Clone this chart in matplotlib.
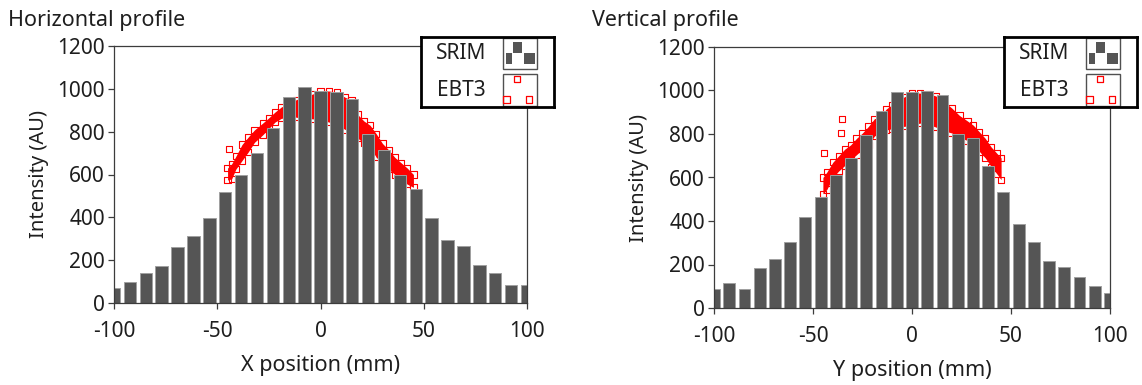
import numpy as np
import matplotlib
matplotlib.use("Agg")
import matplotlib.pyplot as plt
from matplotlib.patches import Rectangle

plt.rcParams["font.family"] = ["Noto Sans", "DejaVu Sans"]
plt.rcParams["axes.unicode_minus"] = False

# SRIM simulation, 27 bins across +-100 mm
bin_centres = np.linspace(-100, 100, 27)
srim_h = [70, 96, 140, 172, 260, 312, 399, 519, 600, 702, 817, 963, 1010, 990,
          984, 951, 791, 715, 600, 530, 399, 292, 264, 177, 140, 85, 85]
srim_v = [87, 113, 87, 182, 225, 305, 417, 509, 610, 691, 795, 907, 993, 993,
          999, 978, 802, 780, 653, 533, 386, 305, 216, 189, 144, 101, 70]

# EBT3 film scan: spread of readings (low / high) at each position
ebt3_h_x = [-45, -43, -41, -38, -35, -32, -28, -25, -22, -19, -15, -12, -8, -4, 0,
            4, 8, 12, 15, 18, 21, 24, 27, 30, 33, 36, 39, 42, 45]
ebt3_h_lo = [574, 580, 625, 665, 705, 750, 785, 815, 845, 862, 868, 868, 860, 860, 855,
             845, 831, 810, 790, 770, 747, 730, 680, 655, 625, 600, 575, 555, 540]
ebt3_h_hi = [630, 650, 685, 740, 775, 808, 840, 865, 892, 915, 935, 948, 965, 975, 990,
             990, 985, 960, 948, 880, 850, 830, 790, 745, 715, 680, 655, 630, 600]
ebt3_h_out_x = [-44.3]
ebt3_h_out_y = [719]

ebt3_v_x = [-45, -43, -40, -37, -34, -31, -28, -25, -22, -19, -16, -13, -10, -7, -4,
            0, 4, 8, 12, 16, 20, 24, 28, 31, 34, 37, 40, 43, 45]
ebt3_v_lo = [525, 545, 600, 630, 655, 680, 705, 730, 750, 790, 810, 818, 825, 830, 835,
             840, 850, 845, 832, 815, 805, 785, 770, 745, 720, 690, 650, 615, 590]
ebt3_v_hi = [600, 625, 670, 700, 730, 750, 780, 805, 835, 870, 880, 915, 935, 955, 970,
             990, 988, 985, 975, 950, 920, 885, 860, 840, 810, 780, 740, 710, 690]
ebt3_v_out_x = [-44.3, -36.0, -35.5]
ebt3_v_out_y = [714, 803, 869]

x_ticks = [-100, -50, 0, 50, 100]
y_ticks = [0, 200, 400, 600, 800, 1000, 1200]

BAR_C = "#555555"
FRAME_C = "#3c3c3c"
TEXT_C = "#1e1e1e"
W, H = 1142, 385

fig = plt.figure(figsize=(W / 100, H / 100), dpi=100)


def px_rect(x0, y0, x1, y1):
    # pixel box (top-left origin) -> figure fraction rect
    return [x0 / W, 1 - y1 / H, (x1 - x0) / W, (y1 - y0) / H]


def profile(rect, srim, ex, elo, ehi, ox, oy, xlabel):
    ax = fig.add_axes(rect)
    step = bin_centres[1] - bin_centres[0]
    ax.fill_between(ex, elo, ehi, color="red", lw=0, zorder=1)
    for ys in (elo, ehi):
        ax.scatter(ex, ys, marker="s", s=20, facecolors="none",
                   edgecolors="red", linewidths=0.8, zorder=1)
    ax.scatter(ox, oy, marker="s", s=20, facecolors="none",
               edgecolors="red", linewidths=0.8, zorder=1)
    ax.bar(bin_centres, srim, width=step * 0.78, color=BAR_C,
           edgecolor="#a0a0a0", linewidth=0.7, zorder=2)
    ax.set_xlim(-100, 100)
    ax.set_ylim(0, 1200)
    ax.set_xticks(x_ticks)
    ax.set_yticks(y_ticks)
    for s in ax.spines.values():
        s.set_color(FRAME_C)
        s.set_linewidth(0.9)
    ax.tick_params(direction="out", width=0.9, color=FRAME_C,
                   labelsize=15, labelcolor=TEXT_C)
    ax.tick_params(axis="x", length=4, pad=9)
    ax.tick_params(axis="y", length=4.5, pad=2)
    ax.set_xlabel(xlabel, fontsize=15.5, color=TEXT_C, labelpad=9)
    ax.set_ylabel("Intensity (AU)", fontsize=14.5, color=TEXT_C, labelpad=6)
    return ax


def legend_box(rect):
    lg = fig.add_axes(rect, zorder=5)
    lg.set_xlim(0, 1)
    lg.set_ylim(0, 1)
    lg.set_xticks([])
    lg.set_yticks([])
    for s in lg.spines.values():
        s.set_color("black")
        s.set_linewidth(2)
    lg.text(0.30, 0.77, "SRIM", ha="center", va="center", fontsize=15, color=TEXT_C)
    lg.text(0.30, 0.24, "EBT3", ha="center", va="center", fontsize=15, color=TEXT_C)
    ix0, ix1 = 0.617, 0.872
    iw = ix1 - ix0
    # SRIM icon: three small grey bars
    y0, y1 = 0.54, 0.98
    ih = y1 - y0
    lg.add_patch(Rectangle((ix0, y0), iw, ih, fc="white", ec="#505050", lw=1))
    for fx, fy, fw, fh in [(0.08, 0.16, 0.17, 0.38), (0.29, 0.52, 0.27, 0.37),
                           (0.62, 0.16, 0.31, 0.38)]:
        lg.add_patch(Rectangle((ix0 + fx * iw, y0 + fy * ih), fw * iw, fh * ih,
                               fc=BAR_C, ec="none"))
    # EBT3 icon: three hollow red squares
    y0, y1 = 0.01, 0.47
    ih = y1 - y0
    lg.add_patch(Rectangle((ix0, y0), iw, ih, fc="white", ec="#505050", lw=1))
    lg.scatter([ix0 + 0.41 * iw, ix0 + 0.10 * iw, ix0 + 0.76 * iw],
               [y0 + 0.86 * ih, y0 + 0.21 * ih, y0 + 0.21 * ih],
               marker="s", s=20, facecolors="none", edgecolors="red",
               linewidths=0.9, zorder=3)
    return lg


profile(px_rect(114, 46, 527, 303), srim_h, ebt3_h_x, ebt3_h_lo, ebt3_h_hi,
        ebt3_h_out_x, ebt3_h_out_y, "X position (mm)")
profile(px_rect(714, 47, 1110, 308), srim_v, ebt3_v_x, ebt3_v_lo, ebt3_v_hi,
        ebt3_v_out_x, ebt3_v_out_y, "Y position (mm)")

legend_box(px_rect(421, 37, 554, 107))
legend_box(px_rect(1004, 37, 1137, 107))

fig.text(8 / W, 1 - 26 / H, "Horizontal profile", ha="left", va="baseline",
         fontsize=15.5, color=TEXT_C)
fig.text(592 / W, 1 - 26 / H, "Vertical profile", ha="left", va="baseline",
         fontsize=15.5, color=TEXT_C)

fig.savefig("out.png", dpi=100)
